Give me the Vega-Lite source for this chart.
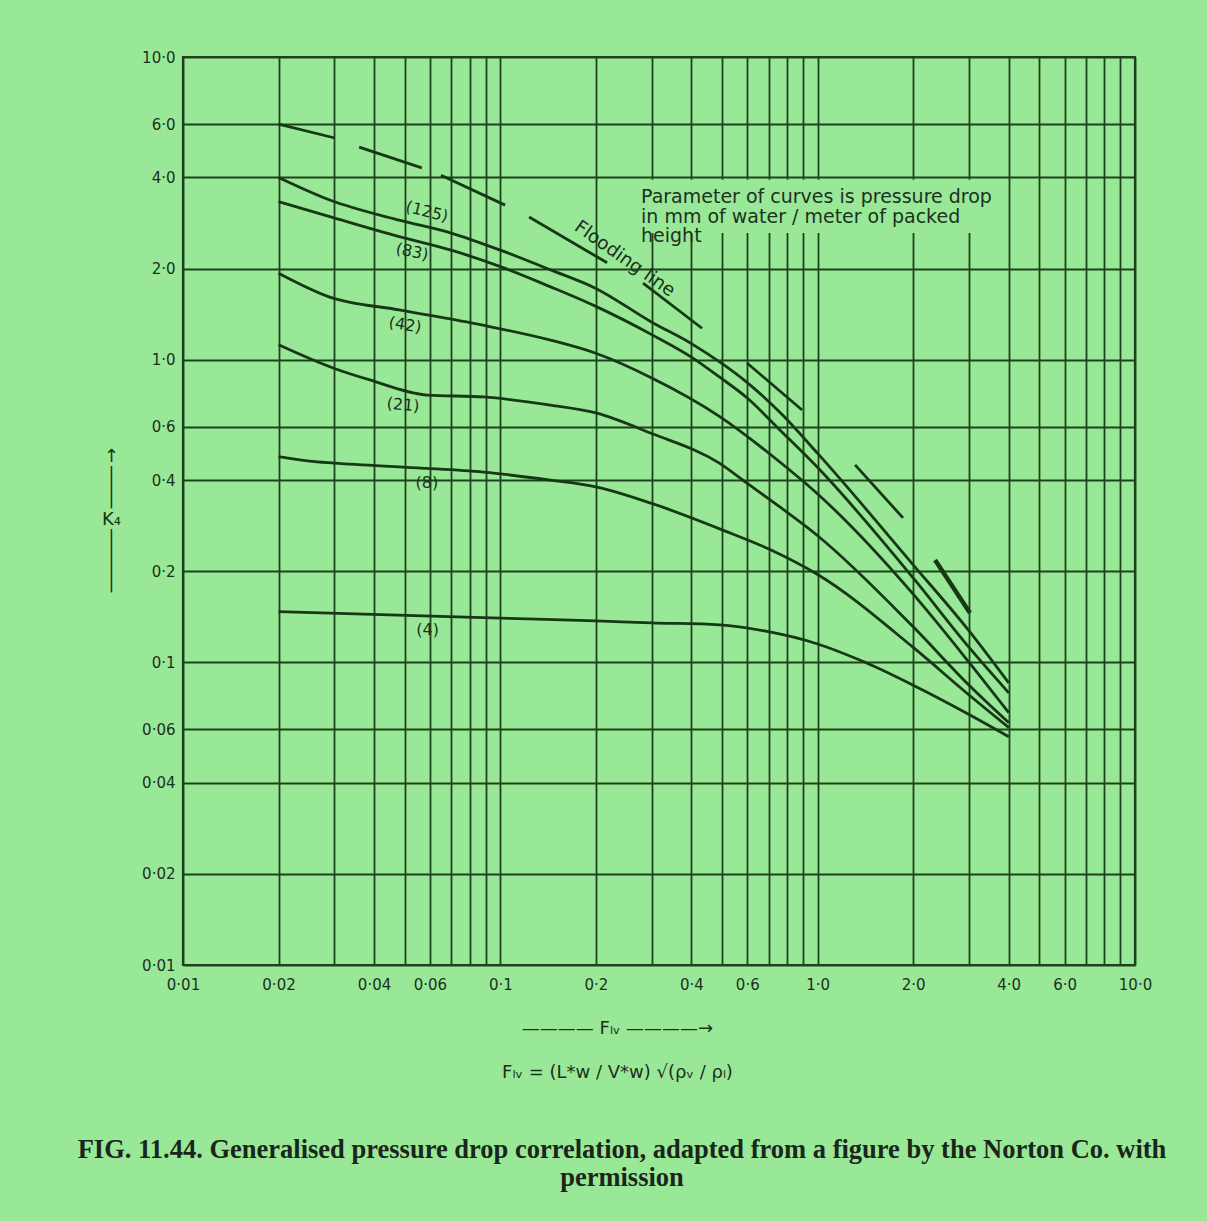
{
  "$schema": "https://vega.github.io/schema/vega-lite/v6.json",
  "width": 952,
  "height": 908,
  "autosize": {"type": "none"},
  "padding": {"left": 183, "top": 57, "right": 72, "bottom": 256},
  "background": "#99e897",
  "title": {
    "text": ["FIG. 11.44. Generalised pressure drop correlation, adapted from a figure by the Norton Co. with", "permission"],
    "orient": "bottom",
    "anchor": "middle",
    "font": "Liberation Serif",
    "fontSize": 26.5,
    "fontWeight": "bold",
    "color": "#1a261a",
    "offset": 56,
    "dx": -37,
    "lineHeight": 28
  },
  "config": {
    "view": {"stroke": "#1e421e", "strokeWidth": 2.2},
    "text": {"font": "DejaVu Sans", "color": "#1c321c"}
  },
  "datasets": {
    "curves": [
      {"p": "125", "x": 0.02, "y": 4.0}, {"p": "125", "x": 0.029, "y": 3.37}, {"p": "125", "x": 0.048, "y": 2.89}, {"p": "125", "x": 0.07, "y": 2.62}, {"p": "125", "x": 0.1, "y": 2.30}, {"p": "125", "x": 0.144, "y": 1.98}, {"p": "125", "x": 0.2, "y": 1.72}, {"p": "125", "x": 0.3, "y": 1.33}, {"p": "125", "x": 0.4, "y": 1.13}, {"p": "125", "x": 0.5, "y": 0.97}, {"p": "125", "x": 0.6, "y": 0.84}, {"p": "125", "x": 0.76, "y": 0.67}, {"p": "125", "x": 1.0, "y": 0.49}, {"p": "125", "x": 2.0, "y": 0.21}, {"p": "125", "x": 3.0, "y": 0.127}, {"p": "125", "x": 4.0, "y": 0.0855},
      {"p": "83", "x": 0.02, "y": 3.33}, {"p": "83", "x": 0.029, "y": 2.97}, {"p": "83", "x": 0.048, "y": 2.55}, {"p": "83", "x": 0.07, "y": 2.30}, {"p": "83", "x": 0.1, "y": 2.03}, {"p": "83", "x": 0.144, "y": 1.74}, {"p": "83", "x": 0.2, "y": 1.50}, {"p": "83", "x": 0.3, "y": 1.21}, {"p": "83", "x": 0.4, "y": 1.02}, {"p": "83", "x": 0.49, "y": 0.877}, {"p": "83", "x": 0.6, "y": 0.747}, {"p": "83", "x": 0.76, "y": 0.586}, {"p": "83", "x": 1.0, "y": 0.44}, {"p": "83", "x": 2.0, "y": 0.19}, {"p": "83", "x": 3.0, "y": 0.112}, {"p": "83", "x": 4.0, "y": 0.0793},
      {"p": "42", "x": 0.02, "y": 1.93}, {"p": "42", "x": 0.029, "y": 1.61}, {"p": "42", "x": 0.048, "y": 1.46}, {"p": "42", "x": 0.088, "y": 1.30}, {"p": "42", "x": 0.144, "y": 1.16}, {"p": "42", "x": 0.2, "y": 1.05}, {"p": "42", "x": 0.3, "y": 0.87}, {"p": "42", "x": 0.49, "y": 0.65}, {"p": "42", "x": 0.76, "y": 0.459}, {"p": "42", "x": 1.0, "y": 0.36}, {"p": "42", "x": 2.0, "y": 0.168}, {"p": "42", "x": 3.0, "y": 0.1}, {"p": "42", "x": 4.0, "y": 0.0682},
      {"p": "21", "x": 0.02, "y": 1.12}, {"p": "21", "x": 0.0297, "y": 0.939}, {"p": "21", "x": 0.0388, "y": 0.857}, {"p": "21", "x": 0.0588, "y": 0.764}, {"p": "21", "x": 0.0885, "y": 0.753}, {"p": "21", "x": 0.1436, "y": 0.708}, {"p": "21", "x": 0.2, "y": 0.667}, {"p": "21", "x": 0.3, "y": 0.57}, {"p": "21", "x": 0.49, "y": 0.455}, {"p": "21", "x": 0.6, "y": 0.39}, {"p": "21", "x": 0.76, "y": 0.326}, {"p": "21", "x": 1.0, "y": 0.262}, {"p": "21", "x": 2.0, "y": 0.131}, {"p": "21", "x": 3.0, "y": 0.084}, {"p": "21", "x": 4.0, "y": 0.0632},
      {"p": "8", "x": 0.02, "y": 0.478}, {"p": "8", "x": 0.025, "y": 0.462}, {"p": "8", "x": 0.03, "y": 0.455}, {"p": "8", "x": 0.0547, "y": 0.439}, {"p": "8", "x": 0.0885, "y": 0.425}, {"p": "8", "x": 0.1436, "y": 0.40}, {"p": "8", "x": 0.2, "y": 0.38}, {"p": "8", "x": 0.3, "y": 0.335}, {"p": "8", "x": 0.5, "y": 0.274}, {"p": "8", "x": 0.713, "y": 0.235}, {"p": "8", "x": 1.0, "y": 0.195}, {"p": "8", "x": 2.0, "y": 0.112}, {"p": "8", "x": 3.0, "y": 0.078}, {"p": "8", "x": 4.0, "y": 0.0609},
      {"p": "4", "x": 0.02, "y": 0.147}, {"p": "4", "x": 0.1, "y": 0.140}, {"p": "4", "x": 0.2, "y": 0.137}, {"p": "4", "x": 0.3, "y": 0.135}, {"p": "4", "x": 0.49, "y": 0.133}, {"p": "4", "x": 0.68, "y": 0.127}, {"p": "4", "x": 1.0, "y": 0.115}, {"p": "4", "x": 1.41, "y": 0.1}, {"p": "4", "x": 2.0, "y": 0.084}, {"p": "4", "x": 2.94, "y": 0.068}, {"p": "4", "x": 4.0, "y": 0.0568}
    ],
    "flood": [
      {"seg": 1, "x": 0.02, "y": 6.0}, {"seg": 1, "x": 0.0301, "y": 5.40},
      {"seg": 2, "x": 0.0359, "y": 5.04}, {"seg": 2, "x": 0.0566, "y": 4.30},
      {"seg": 3, "x": 0.065, "y": 4.07}, {"seg": 3, "x": 0.1035, "y": 3.24},
      {"seg": 4, "x": 0.1232, "y": 2.96}, {"seg": 4, "x": 0.217, "y": 2.09},
      {"seg": 5, "x": 0.2817, "y": 1.79}, {"seg": 5, "x": 0.432, "y": 1.27},
      {"seg": 6, "x": 0.599, "y": 0.975}, {"seg": 6, "x": 0.893, "y": 0.682},
      {"seg": 7, "x": 1.312, "y": 0.449}, {"seg": 7, "x": 1.858, "y": 0.30}
    ],
    "floodEnd": [
      {"seg": 8, "x": 2.344, "y": 0.218}, {"seg": 8, "x": 3.02, "y": 0.1456}
    ],
    "mask": [
      {"x": 0.275, "x2": 3.1, "y": 2.62, "y2": 3.93}
    ],
    "labels": [
      {"label": "(125)", "x": 0.0587, "y": 3.08},
      {"label": "(83)", "x": 0.0527, "y": 2.27},
      {"label": "(42)", "x": 0.0501, "y": 1.30},
      {"label": "(21)", "x": 0.0494, "y": 0.708},
      {"label": "(8)", "x": 0.0587, "y": 0.3915},
      {"label": "(4)", "x": 0.059, "y": 0.128}
    ],
    "flooding": [
      {"label": "Flooding line", "x": 0.247, "y": 2.16}
    ],
    "notes": [
      {"line": "Parameter of curves is pressure drop", "x": 0.2776, "y": 3.45},
      {"line": "in mm of water / meter of packed", "x": 0.2776, "y": 2.96},
      {"line": "height", "x": 0.2776, "y": 2.56}
    ]
  },
  "encoding": {
    "x": {
      "field": "x",
      "type": "quantitative",
      "scale": {"type": "log", "domain": [0.01, 10], "nice": false},
      "axis": {
        "values": [0.01, 0.02, 0.03, 0.04, 0.05, 0.06, 0.07, 0.08, 0.09, 0.1, 0.2, 0.3, 0.4, 0.5, 0.6, 0.7, 0.8, 0.9, 1, 2, 3, 4, 5, 6, 7, 8, 9, 10],
        "labelExpr": "indexof([0.01,0.02,0.04,0.06,0.1,0.2,0.4,0.6,1,2,4,6,10], datum.value) >= 0 ? (datum.value >= 1 ? replace(format(datum.value, '.1f'), '.', '·') : replace(format(datum.value, '~g'), '.', '·')) : ''",
        "grid": true,
        "gridColor": "#1e421e",
        "gridWidth": 1.8,
        "gridOpacity": 1,
        "ticks": false,
        "domain": false,
        "labelPadding": 12,
        "labelFont": "DejaVu Sans",
        "labelFontSize": 15,
        "labelColor": "#1c301c",
        "labelFlush": false,
        "labelOverlap": false,
        "labelBound": false,
        "title": ["———— Fₗᵥ ————→", "Fₗᵥ = (L*w / V*w) √(ρᵥ / ρₗ)"],
        "titleFont": "DejaVu Sans",
        "titleFontSize": 18,
        "titleFontWeight": "normal",
        "titleColor": "#1c301c",
        "titleLineHeight": 44,
        "titleBaseline": "top",
        "titleAnchor": "start",
        "titleAlign": "center",
        "titleX": 434,
        "titleY": 54
      }
    },
    "y": {
      "field": "y",
      "type": "quantitative",
      "scale": {"type": "log", "domain": [0.01, 10], "nice": false},
      "axis": {
        "values": [0.01, 0.02, 0.04, 0.06, 0.1, 0.2, 0.4, 0.6, 1, 2, 4, 6, 10],
        "labelExpr": "datum.value >= 1 ? replace(format(datum.value, '.1f'), '.', '·') : replace(format(datum.value, '~g'), '.', '·')",
        "grid": true,
        "gridColor": "#1e421e",
        "gridWidth": 1.8,
        "gridOpacity": 1,
        "ticks": false,
        "domain": false,
        "labelPadding": 8,
        "labelFont": "DejaVu Sans",
        "labelFontSize": 15,
        "labelColor": "#1c301c",
        "labelFlush": false,
        "labelOverlap": false,
        "labelBound": false,
        "title": ["↑", "│", "│", "K₄", "│", "│", "│"],
        "titleFont": "DejaVu Sans",
        "titleFontSize": 18,
        "titleFontWeight": "normal",
        "titleColor": "#1c301c",
        "titleAngle": 0,
        "titleLineHeight": 21,
        "titleBaseline": "top",
        "titleAlign": "center",
        "titleX": -72,
        "titleY": 390
      }
    }
  },
  "layer": [
    {
      "data": {"name": "mask"},
      "mark": {"type": "rect", "fill": "#99e897", "stroke": null},
      "encoding": {
        "x2": {"field": "x2"},
        "y2": {"field": "y2"}
      }
    },
    {
      "data": {"name": "curves"},
      "mark": {"type": "line", "interpolate": "monotone", "color": "#163816", "strokeWidth": 2.8},
      "encoding": {"detail": {"field": "p", "type": "nominal"}}
    },
    {
      "data": {"name": "flood"},
      "mark": {"type": "line", "color": "#163816", "strokeWidth": 2.8},
      "encoding": {"detail": {"field": "seg", "type": "nominal"}}
    },
    {
      "data": {"name": "floodEnd"},
      "mark": {"type": "line", "color": "#163816", "strokeWidth": 4.5},
      "encoding": {"detail": {"field": "seg", "type": "nominal"}}
    },
    {
      "data": {"name": "labels"},
      "transform": [{"filter": "datum.label === '(125)'"}],
      "mark": {"type": "text", "fontSize": 16, "angle": 14, "align": "center", "baseline": "middle"},
      "encoding": {"text": {"field": "label"}}
    },
    {
      "data": {"name": "labels"},
      "transform": [{"filter": "datum.label === '(83)'"}],
      "mark": {"type": "text", "fontSize": 16, "angle": 12, "align": "center", "baseline": "middle"},
      "encoding": {"text": {"field": "label"}}
    },
    {
      "data": {"name": "labels"},
      "transform": [{"filter": "datum.label === '(42)'"}],
      "mark": {"type": "text", "fontSize": 16, "angle": 10, "align": "center", "baseline": "middle"},
      "encoding": {"text": {"field": "label"}}
    },
    {
      "data": {"name": "labels"},
      "transform": [{"filter": "datum.label === '(21)'"}],
      "mark": {"type": "text", "fontSize": 16, "angle": 5, "align": "center", "baseline": "middle"},
      "encoding": {"text": {"field": "label"}}
    },
    {
      "data": {"name": "labels"},
      "transform": [{"filter": "datum.label === '(8)' || datum.label === '(4)'"}],
      "mark": {"type": "text", "fontSize": 16, "angle": 0, "align": "center", "baseline": "middle"},
      "encoding": {"text": {"field": "label"}}
    },
    {
      "data": {"name": "flooding"},
      "mark": {"type": "text", "fontSize": 18.5, "angle": 35, "align": "center", "baseline": "middle"},
      "encoding": {"text": {"field": "label"}}
    },
    {
      "data": {"name": "notes"},
      "mark": {"type": "text", "fontSize": 19, "align": "left", "baseline": "middle"},
      "encoding": {"text": {"field": "line"}}
    }
  ]
}
